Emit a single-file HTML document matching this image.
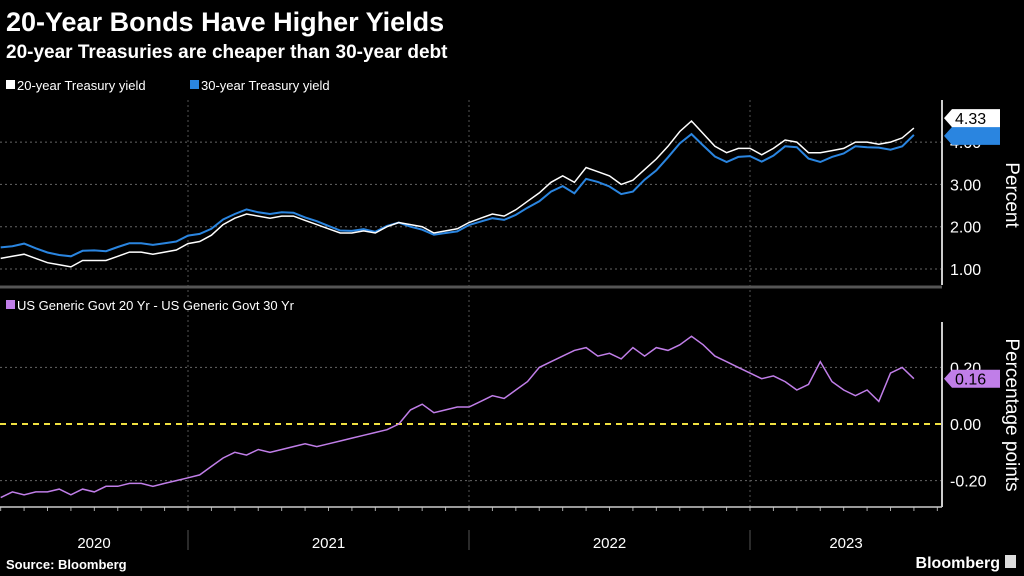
<!DOCTYPE html>
<html><head><meta charset="utf-8"><style>
body{margin:0;background:#000;width:1024px;height:576px;overflow:hidden;font-family:"Liberation Sans",sans-serif;color:#fff}
svg{position:absolute;left:0;top:0}
</style></head><body>
<svg id="c" width="1024" height="576">
<text x="6" y="31" font-size="27" font-weight="bold" fill="#fff">20-Year Bonds Have Higher Yields</text>
<text x="6" y="58" font-size="19" font-weight="bold" fill="#fff">20-year Treasuries are cheaper than 30-year debt</text>
<rect x="6" y="80" width="9" height="9" fill="#fff"/>
<text x="17" y="90" font-size="13" fill="#fff">20-year Treasury yield</text>
<rect x="190" y="80" width="9" height="9" fill="#2a85e0"/>
<text x="201" y="90" font-size="13" fill="#fff">30-year Treasury yield</text>
<line x1="0" y1="287" x2="942" y2="287" stroke="#555" stroke-width="3"/>
<rect x="6" y="300" width="9" height="9" fill="#c07ee8"/>
<text x="17" y="310" font-size="13" fill="#fff">US Generic Govt 20 Yr - US Generic Govt 30 Yr</text>
<text transform="translate(1006,195) rotate(90)" text-anchor="middle" font-size="19" fill="#fff">Percent</text>
<text transform="translate(1006,415) rotate(90)" text-anchor="middle" font-size="19" fill="#fff">Percentage points</text>
<text x="6" y="569" font-size="13" font-weight="bold" fill="#fff">Source: Bloomberg</text>
<text x="1000" y="568" text-anchor="end" font-size="16" font-weight="bold" fill="#fff">Bloomberg</text>
<rect x="1005" y="555" width="11" height="13" fill="#ddd"/>
<g id="g"></g>
</svg>
<script>
const yield20 = [1.25,1.3,1.35,1.25,1.15,1.1,1.05,1.2,1.2,1.2,1.3,1.4,1.4,1.35,1.4,1.45,
1.6,1.65,1.8,2.05,2.2,2.3,2.25,2.2,2.25,2.25,2.15,2.05,1.95,1.85,1.85,1.9,1.85,2.0,2.1,2.05,2.0,1.85,1.9,1.95,
2.1,2.2,2.3,2.25,2.4,2.6,2.8,3.05,3.2,3.05,3.4,3.3,3.2,3.0,3.1,3.35,3.6,3.9,4.25,4.5,4.2,3.9,3.75,3.85,
3.85,3.7,3.85,4.05,4.0,3.75,3.75,3.8,3.85,4.0,4.0,3.95,4.0,4.1,4.33];
const spread = [-0.26,-0.24,-0.25,-0.24,-0.24,-0.23,-0.25,-0.23,-0.24,-0.22,-0.22,-0.21,-0.21,-0.22,-0.21,-0.2,
-0.19,-0.18,-0.15,-0.12,-0.1,-0.11,-0.09,-0.1,-0.09,-0.08,-0.07,-0.08,-0.07,-0.06,-0.05,-0.04,-0.03,-0.02,0.0,0.05,0.07,0.04,0.05,0.06,
0.06,0.08,0.1,0.09,0.12,0.15,0.2,0.22,0.24,0.26,0.27,0.24,0.25,0.23,0.27,0.24,0.27,0.26,0.28,0.31,0.28,0.24,0.22,0.2,
0.18,0.16,0.17,0.15,0.12,0.14,0.22,0.15,0.12,0.1,0.12,0.08,0.18,0.2,0.16];
const startYear = 2020, startMonth = 5; // first observation: May 2020, two observations per month
const topTicks = [1,2,3,4], botTicks = [-0.2,0,0.2];
const years = ["2020","2021","2022","2023"];
const NS="http://www.w3.org/2000/svg", g=document.getElementById('g');
function tOf(i){return startYear+(startMonth-1)/12+i/24;}
function tx(t){return 188+(t-2021)*281;}
function yT(v){return 269-(v-1)*42.3;}
function yB(v){return 424-v*283;}
function mk(t,a){const e=document.createElementNS(NS,t);for(const k in a)e.setAttribute(k,a[k]);g.appendChild(e);return e;}
topTicks.forEach(v=>{
 const l=mk('line',{x1:0,x2:942,y1:yT(v),y2:yT(v),stroke:'#666','stroke-dasharray':'2,3'});
 
 
 const t=mk('text',{x:950,y:yT(v)+6,'font-size':16,fill:'#fff'});t.textContent=v.toFixed(2);
 
 
});
botTicks.forEach(v=>{
 const l=mk('line',{x1:0,x2:942,y1:yB(v),y2:yB(v),stroke:v===0?'#f0e040':'#666','stroke-width':v===0?2:1,'stroke-dasharray':v===0?'6,5':'2,3'});
 
 
 const t=mk('text',{x:950,y:yB(v)+6,'font-size':16,fill:'#fff'});t.textContent=v.toFixed(2);
 
 
});
[2021,2022,2023].forEach(y=>{
 const x=tx(y);
 const l=mk('line',{x1:x,x2:x,y1:100,y2:507,stroke:'#555','stroke-dasharray':'2,3'});
 
 
 const s=mk('line',{x1:x,x2:x,y1:530,y2:550,stroke:'#555'});
 
 
});
for(let m=0;m<44;m++){
 const x=tx(2020+4/12+m/12); if(x>940) break;
 const k=mk('line',{x1:x,x2:x,y1:507,y2:511,stroke:'#aaa'});
 
 
}
years.forEach((y,i)=>{
 const x0=i===0?0:tx(+y), x1=Math.min(942,tx(+y+1));
 const t=mk('text',{x:(x0+x1)/2,y:548,'text-anchor':'middle','font-size':15,fill:'#fff'});t.textContent=y;
 
 
});
[[100,285],[322,507]].forEach(([a,b])=>{
 const l=mk('line',{x1:942,x2:942,y1:a,y2:b,stroke:'#ccc','stroke-width':2});
 
 
});
const xa=mk('line',{x1:0,x2:942,y1:507,y2:507,stroke:'#ccc','stroke-width':1.5});


function path(vals,fy){return vals.map((v,i)=>(i?'L':'M')+tx(tOf(i)).toFixed(1)+','+fy(v).toFixed(1)).join('');}
const y30 = yield20.map((v,i)=>v-spread[i]);
const p30=mk('path',{d:path(y30,yT),fill:'none',stroke:'#2a85e0','stroke-width':2});


const p20=mk('path',{d:path(yield20,yT),fill:'none',stroke:'#fff','stroke-width':1.5});


const ps=mk('path',{d:path(spread,yB),fill:'none',stroke:'#c07ee8','stroke-width':1.5});


const last=yield20.length-1;
function tag(y,col,txt,tc,name){
 const p=mk('path',{d:`M944,${y} L952,${y-9} L1000,${y-9} L1000,${y+9} L952,${y+9} Z`,fill:col});
 
 
 const t=mk('text',{x:955,y:y+6,'font-size':16,fill:tc});t.textContent=txt;
 
 
}
tag(yT(y30[last])+1,'#2a85e0','','#fff','label-30y');
tag(yT(yield20[last])-10,'#fff',yield20[last].toFixed(2),'#000','label-20y');
tag(yB(spread[last]),'#c07ee8',spread[last].toFixed(2),'#000','label-spread');
</script>
</body></html>
